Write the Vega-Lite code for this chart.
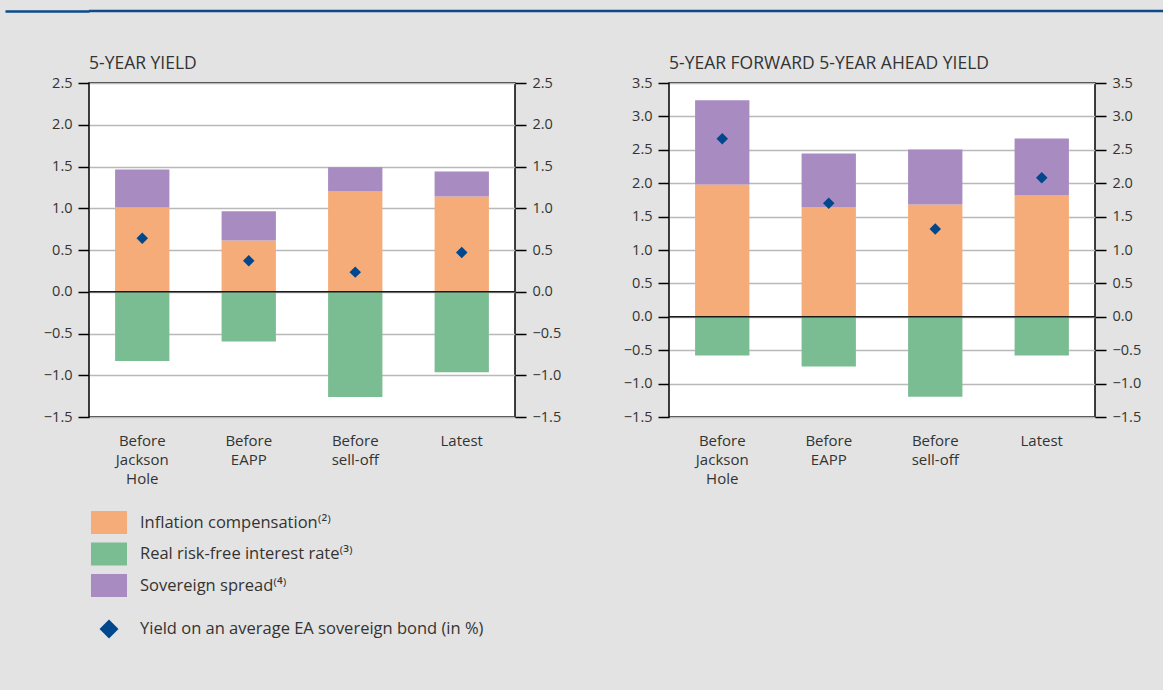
{
  "$schema": "https://vega.github.io/schema/vega-lite/v6.json",
  "background": "#e3e3e3",
  "padding": {"left": 3, "top": 9, "right": 0, "bottom": 53},
  "datasets": {
    "bars": [
      {"panel": "L", "cat": "Before|Jackson|Hole", "comp": "Inflation compensation⁽²⁾", "ord": 1, "value": 1.01},
      {"panel": "L", "cat": "Before|Jackson|Hole", "comp": "Real risk-free interest rate⁽³⁾", "ord": 2, "value": -0.83},
      {"panel": "L", "cat": "Before|Jackson|Hole", "comp": "Sovereign spread⁽⁴⁾", "ord": 3, "value": 0.455},
      {"panel": "L", "cat": "Before|EAPP", "comp": "Inflation compensation⁽²⁾", "ord": 1, "value": 0.615},
      {"panel": "L", "cat": "Before|EAPP", "comp": "Real risk-free interest rate⁽³⁾", "ord": 2, "value": -0.595},
      {"panel": "L", "cat": "Before|EAPP", "comp": "Sovereign spread⁽⁴⁾", "ord": 3, "value": 0.35},
      {"panel": "L", "cat": "Before|sell-off", "comp": "Inflation compensation⁽²⁾", "ord": 1, "value": 1.2},
      {"panel": "L", "cat": "Before|sell-off", "comp": "Real risk-free interest rate⁽³⁾", "ord": 2, "value": -1.26},
      {"panel": "L", "cat": "Before|sell-off", "comp": "Sovereign spread⁽⁴⁾", "ord": 3, "value": 0.29},
      {"panel": "L", "cat": "Latest", "comp": "Inflation compensation⁽²⁾", "ord": 1, "value": 1.14},
      {"panel": "L", "cat": "Latest", "comp": "Real risk-free interest rate⁽³⁾", "ord": 2, "value": -0.965},
      {"panel": "L", "cat": "Latest", "comp": "Sovereign spread⁽⁴⁾", "ord": 3, "value": 0.3},
      {"panel": "R", "cat": "Before|Jackson|Hole", "comp": "Inflation compensation⁽²⁾", "ord": 1, "value": 1.98},
      {"panel": "R", "cat": "Before|Jackson|Hole", "comp": "Real risk-free interest rate⁽³⁾", "ord": 2, "value": -0.58},
      {"panel": "R", "cat": "Before|Jackson|Hole", "comp": "Sovereign spread⁽⁴⁾", "ord": 3, "value": 1.26},
      {"panel": "R", "cat": "Before|EAPP", "comp": "Inflation compensation⁽²⁾", "ord": 1, "value": 1.635},
      {"panel": "R", "cat": "Before|EAPP", "comp": "Real risk-free interest rate⁽³⁾", "ord": 2, "value": -0.745},
      {"panel": "R", "cat": "Before|EAPP", "comp": "Sovereign spread⁽⁴⁾", "ord": 3, "value": 0.81},
      {"panel": "R", "cat": "Before|sell-off", "comp": "Inflation compensation⁽²⁾", "ord": 1, "value": 1.68},
      {"panel": "R", "cat": "Before|sell-off", "comp": "Real risk-free interest rate⁽³⁾", "ord": 2, "value": -1.195},
      {"panel": "R", "cat": "Before|sell-off", "comp": "Sovereign spread⁽⁴⁾", "ord": 3, "value": 0.825},
      {"panel": "R", "cat": "Latest", "comp": "Inflation compensation⁽²⁾", "ord": 1, "value": 1.815},
      {"panel": "R", "cat": "Latest", "comp": "Real risk-free interest rate⁽³⁾", "ord": 2, "value": -0.58},
      {"panel": "R", "cat": "Latest", "comp": "Sovereign spread⁽⁴⁾", "ord": 3, "value": 0.855}
    ],
    "yields": [
      {"panel": "L", "cat": "Before|Jackson|Hole", "series": "Yield on an average EA sovereign bond (in %)", "yield": 0.64},
      {"panel": "L", "cat": "Before|EAPP", "series": "Yield on an average EA sovereign bond (in %)", "yield": 0.37},
      {"panel": "L", "cat": "Before|sell-off", "series": "Yield on an average EA sovereign bond (in %)", "yield": 0.235},
      {"panel": "L", "cat": "Latest", "series": "Yield on an average EA sovereign bond (in %)", "yield": 0.47},
      {"panel": "R", "cat": "Before|Jackson|Hole", "series": "Yield on an average EA sovereign bond (in %)", "yield": 2.665},
      {"panel": "R", "cat": "Before|EAPP", "series": "Yield on an average EA sovereign bond (in %)", "yield": 1.7},
      {"panel": "R", "cat": "Before|sell-off", "series": "Yield on an average EA sovereign bond (in %)", "yield": 1.315},
      {"panel": "R", "cat": "Latest", "series": "Yield on an average EA sovereign bond (in %)", "yield": 2.08}
    ]
  },
  "spacing": 40,
  "vconcat": [
    {
      "data": {"values": [{"v": 0}]},
      "width": 1075,
      "height": 2,
      "view": {"fill": null, "stroke": null},
      "mark": {"type": "rule", "color": "#0c4a8a", "strokeWidth": 2.5},
      "encoding": {
        "y": {"field": "v", "type": "quantitative", "scale": {"domain": [-1, 1]},
              "axis": {"title": null, "values": [0], "labels": false, "grid": false, "domain": false,
                       "ticks": true, "tickSize": 84, "tickColor": "#0c4a8a", "tickWidth": 2.5, "tickOffset": -0.25,
                       "minExtent": 83, "maxExtent": 83}}
      }
    },
    {
      "spacing": 52,
      "hconcat": [
        {
          "width": 426,
          "height": 334,
          "title": {"text": "5-YEAR YIELD"},
          "view": {"fill": "#ffffff", "stroke": "#000000", "strokeWidth": 1.5},
          "layer": [
            {
              "data": {"name": "bars"},
              "transform": [{"filter": "datum.panel === 'L'"}],
              "mark": {"type": "bar"},
              "encoding": {
                "x": {"field": "cat", "type": "nominal", "sort": null, "scale": {"paddingInner": 0.49, "paddingOuter": 0.245},
                      "axis": {"orient": "bottom", "title": null}},
                "y": {"field": "value", "type": "quantitative", "stack": "zero",
                      "scale": {"domain": [-1.5, 2.5], "nice": false, "zero": false},
                      "axis": {"orient": "left", "title": null, "grid": true, "minExtent": 83, "maxExtent": 83}},
                "color": {"field": "comp", "type": "nominal",
                          "scale": {"domain": ["Inflation compensation⁽²⁾", "Real risk-free interest rate⁽³⁾", "Sovereign spread⁽⁴⁾"],
                                    "range": ["#f5ac78", "#7bbd93", "#a88bc1"]},
                          "legend": {"orient": "none", "legendX": 8.5, "legendY": 501, "title": null,
                                     "symbolType": "M-1.565,-1H1.565V1H-1.565Z", "symbolSize": 529,
                                     "symbolStrokeWidth": 0, "labelOffset": 19.5, "rowPadding": 8.5, "padding": 0}},
                "order": {"field": "ord", "type": "quantitative"}
              }
            },
            {
              "data": {"name": "yields"},
              "transform": [{"filter": "datum.panel === 'L'"}],
              "mark": {"type": "point", "filled": true, "size": 132, "color": "#00478d", "opacity": 1, "strokeWidth": 0},
              "encoding": {
                "x": {"field": "cat", "type": "nominal", "sort": null},
                "y": {"field": "yield", "type": "quantitative",
                      "scale": {"domain": [-1.5, 2.5], "nice": false, "zero": false},
                      "axis": {"orient": "right", "title": null, "grid": false, "minExtent": 50, "maxExtent": 50}},
                "shape": {"field": "series", "type": "nominal", "scale": {"range": ["diamond"]},
                          "legend": {"orient": "none", "legendX": 10.5, "legendY": 609.5, "title": null,
                                     "symbolSize": 361, "symbolFillColor": "#00478d", "symbolStrokeWidth": 0,
                                     "symbolOpacity": 1, "labelOffset": 21.5, "padding": 0}}
              }
            },
            {
              "data": {"values": [{"z": 0}]},
              "mark": {"type": "rule", "color": "#1a1a1a", "strokeWidth": 1.5},
              "encoding": {"y": {"field": "z", "type": "quantitative", "axis": null, "scale": {"domain": [-1.5, 2.5], "nice": false, "zero": false}}}
            }
          ],
          "resolve": {"axis": {"y": "independent"}}
        },
        {
          "width": 426,
          "height": 334,
          "title": {"text": "5-YEAR FORWARD 5-YEAR AHEAD YIELD"},
          "view": {"fill": "#ffffff", "stroke": "#000000", "strokeWidth": 1.5},
          "layer": [
            {
              "data": {"name": "bars"},
              "transform": [{"filter": "datum.panel === 'R'"}],
              "mark": {"type": "bar"},
              "encoding": {
                "x": {"field": "cat", "type": "nominal", "sort": null, "scale": {"paddingInner": 0.49, "paddingOuter": 0.245},
                      "axis": {"orient": "bottom", "title": null}},
                "y": {"field": "value", "type": "quantitative", "stack": "zero",
                      "scale": {"domain": [-1.5, 3.5], "nice": false, "zero": false},
                      "axis": {"orient": "left", "title": null, "grid": true, "minExtent": 50, "maxExtent": 50}},
                "color": {"field": "comp", "type": "nominal"},
                "order": {"field": "ord", "type": "quantitative"}
              }
            },
            {
              "data": {"name": "yields"},
              "transform": [{"filter": "datum.panel === 'R'"}],
              "mark": {"type": "point", "filled": true, "size": 132, "color": "#00478d", "opacity": 1, "strokeWidth": 0},
              "encoding": {
                "x": {"field": "cat", "type": "nominal", "sort": null},
                "y": {"field": "yield", "type": "quantitative",
                      "scale": {"domain": [-1.5, 3.5], "nice": false, "zero": false},
                      "axis": {"orient": "right", "title": null, "grid": false}},
                "shape": {"field": "series", "type": "nominal"}
              }
            },
            {
              "data": {"values": [{"z": 0}]},
              "mark": {"type": "rule", "color": "#1a1a1a", "strokeWidth": 1.5},
              "encoding": {"y": {"field": "z", "type": "quantitative", "axis": null, "scale": {"domain": [-1.5, 3.5], "nice": false, "zero": false}}}
            }
          ],
          "resolve": {"axis": {"y": "independent"}}
        }
      ]
    }
  ],
  "config": {
    "font": "Open Sans",
    "title": {"anchor": "start", "frame": "group", "fontSize": 17.5, "fontWeight": "normal", "color": "#333333", "baseline": "alphabetic", "offset": 3},
    "axisY": {"tickCount": 9, "format": ".1f", "labelFontSize": 14.5, "labelColor": "#333333", "tickColor": "#000000", "tickSize": 11, "tickWidth": 1.5, "labelPadding": 6, "domain": false, "gridColor": "#b9b9b9", "gridWidth": 1.5},
    "axisX": {"labelExpr": "split(datum.label, '|')", "labelAngle": 0, "labelFontSize": 15, "labelLineHeight": 19, "labelColor": "#333333", "ticks": false, "domain": false, "labelPadding": 16.5},
    "legend": {"labelFontSize": 16.5, "labelColor": "#333333", "labelLimit": 500},
    "view": {"stroke": "#000000"}
  }
}
